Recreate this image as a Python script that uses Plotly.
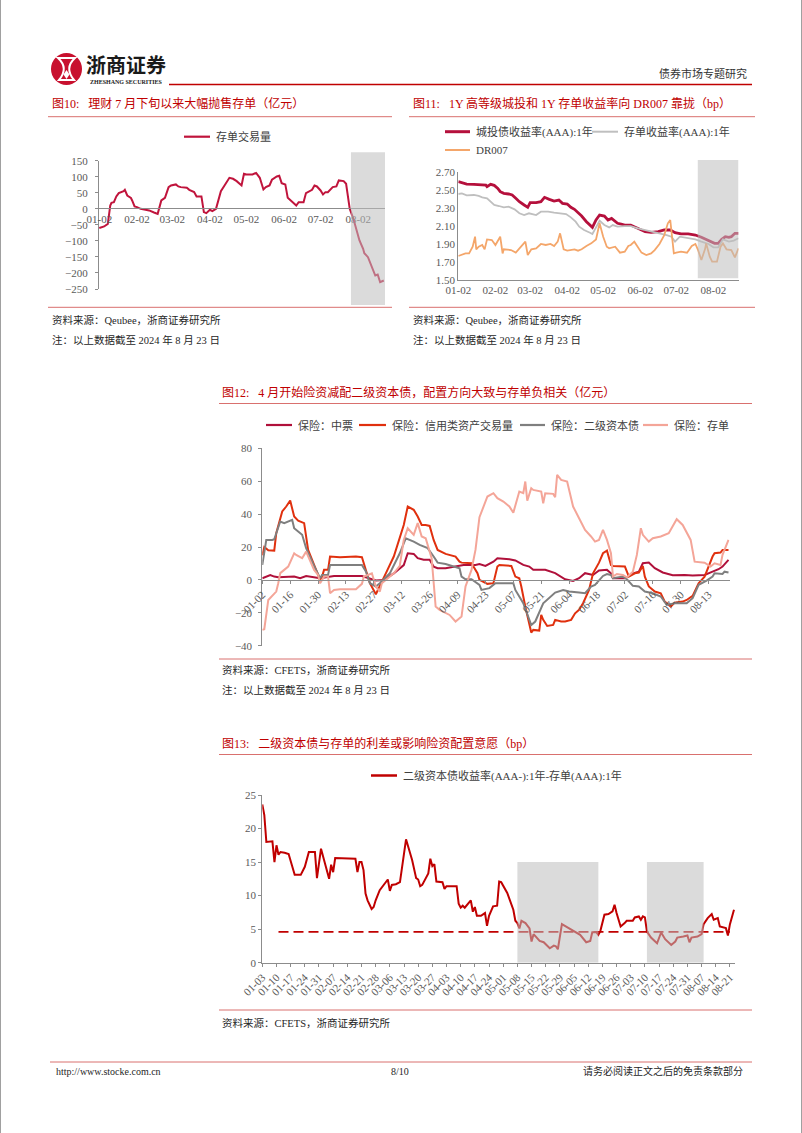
import plotly.graph_objects as go

W, H = 802, 1133
def px(x): return x / W
def py(y): return 1 - y / H

SERIF = "Liberation Serif, Noto Sans CJK SC, serif"
CJK = "Noto Sans CJK SC, sans-serif"
TICK_COLOR = "#595959"
AX_COLOR = "#8C8C8C"
RED = "#C00000"
RULE = "#D9706E"

# ---------------- Chart 10 data ----------------
c10_name = "存单交易量"
c10_dates = ["01-02","01-06","01-09","01-10","01-11","01-12","01-14","01-16","01-18","01-22","01-23","01-25","01-28","01-29","01-31",
             "02-02","02-05","02-09","02-12","02-16","02-19","02-22","02-23","02-25","02-28","03-01","03-05","03-07","03-09","03-14",
             "03-16","03-20","03-22","03-26","03-28","03-30","04-02","04-04","04-07","04-11","04-14","04-18","04-21","04-24","04-28",
             "04-30","05-02","05-07","05-10","05-13","05-16","05-18","05-21","05-23","05-27","05-29","05-31","06-03","06-05","06-09",
             "06-12","06-14","06-18","06-20","06-25","06-27","06-29","07-02","07-04","07-06","07-08","07-12","07-15","07-17","07-21",
             "07-23","07-25","07-26","07-29","08-01","08-03","08-06","08-07","08-10","08-13","08-16","08-18","08-20","08-23"]
c10_vals = [-60,-55,-47,-13.5,10,18.7,20.8,38.5,49,55,59,41.6,34.3,26,7.3,
            5.2,0,-3,-5,-11.4,-15.6,26,28,34.3,67.6,72.8,76,69.7,67.6,65.5,
            59.3,52,38.5,38.5,-10.4,-13.5,-3,-7.3,0,55,72.8,96.7,93.6,86.3,72.8,
            109,107,107,112,96.7,60.3,67.6,72.8,90.5,101,103,80,76,34.3,20.8,
            10.4,20.8,20.8,49,59.3,72.8,69.7,57.2,44.7,52,52,67.6,69.7,88.4,86.3,
            78,31.2,0,-31.2,-67.6,-98.8,-124.8,-138.3,-150.8,-182,-208,-204.9,-228.8,-223.6]
c10_ticks = ["01-02","02-02","03-02","04-02","05-02","06-02","07-02","08-02"]
c10_yticks = [150, 100, 50, 0, -50, -100, -150, -200, -250]

# ---------------- Chart 11 data ----------------
c11_names = ["城投债收益率(AAA):1年", "存单收益率(AAA):1年", "DR007"]
c11_cb_dates = ["01-02","01-05","01-09","01-15","01-21","01-25","01-26","01-29","02-01","02-04","02-06","02-09","02-13","02-16",
                "02-19","02-22","02-26","02-29","03-02","03-07","03-11","03-14","03-18","03-22","03-26","03-29","04-02","04-05",
                "04-08","04-11","04-14","04-18","04-22","04-23","04-26","04-29","05-03","05-06","05-09","05-12","05-14","05-17",
                "05-20","05-25","05-31","06-06","06-11","06-17","06-22","06-27","07-01","07-06","07-12","07-18","07-23","07-29",
                "08-03","08-06","08-09","08-12","08-15","08-17","08-20","08-23"]
c11_cb_vals = [2.589,2.578,2.563,2.56,2.56,2.552,2.534,2.56,2.549,2.515,2.479,2.46,2.453,2.442,
               2.405,2.368,2.331,2.305,2.357,2.357,2.368,2.416,2.394,2.375,2.386,2.349,2.342,2.305,
               2.283,2.246,2.209,2.146,2.091,2.083,2.165,2.22,2.209,2.165,2.183,2.146,2.128,2.12,
               2.109,2.109,2.072,2.035,2.028,2.035,2.054,2.054,2.024,2.01,2.01,1.998,1.973,1.936,
               1.906,1.906,1.95,1.98,1.973,1.98,2.017,2.017]
c11_ncd_dates = ["01-02","01-05","01-09","01-15","01-19","01-22","01-26","01-29","02-01","02-05","02-09","02-13","02-18","02-22",
                 "02-26","03-01","03-07","03-11","03-17","03-22","03-28","04-01","04-05","04-09","04-12","04-16","04-21","04-23",
                 "04-26","04-29","05-03","05-07","05-10","05-14","05-20","05-25","05-31","06-06","06-13","06-18","06-24","06-28",
                 "07-01","07-05","07-12","07-18","07-23","07-29","08-02","08-06","08-10","08-15","08-19","08-23"]
c11_ncd_vals = [2.453,2.46,2.438,2.442,2.431,2.416,2.405,2.368,2.331,2.32,2.305,2.312,2.283,2.239,
                2.22,2.239,2.22,2.257,2.257,2.246,2.239,2.231,2.194,2.146,2.091,2.054,2.024,2.01,
                2.083,2.157,2.109,2.083,2.109,2.091,2.098,2.098,2.072,2.054,2.035,2.024,1.998,1.98,
                1.925,1.98,1.962,1.95,1.925,1.899,1.862,1.862,1.95,1.925,1.936,1.962]
c11_dr_dates = ["01-02","01-05","01-08","01-11","01-14","01-16","01-17","01-19","01-22","01-24","01-26","01-30","02-02","02-06",
                "02-08","02-09","02-15","02-19","02-23","02-27","02-29","03-03","03-07","03-11","03-15","03-19","03-22","03-25",
                "03-27","03-30","04-02","04-08","04-11","04-14","04-18","04-22","04-26","04-29","05-02","05-05","05-07","05-12",
                "05-16","05-20","05-23","05-25","05-28","05-31","06-03","06-07","06-11","06-14","06-18","06-22","06-25","06-27",
                "06-28","06-30","07-02","07-06","07-11","07-15","07-18","07-20","07-23","07-26","07-27","07-30","08-01","08-05",
                "08-08","08-10","08-13","08-17","08-20","08-23"]
c11_dr_vals = [1.766,1.777,1.795,1.795,1.869,1.98,1.84,1.869,1.888,1.84,1.95,1.943,1.888,1.98,
               1.795,1.84,1.832,1.803,1.869,1.925,1.777,1.84,1.851,1.899,1.888,1.899,1.877,1.925,
               2.017,1.84,1.825,1.84,1.825,1.84,1.877,1.906,1.95,2.128,1.98,1.869,1.851,1.869,
               1.803,1.814,1.877,1.888,1.925,1.869,1.803,1.777,1.795,1.832,1.899,1.998,2.128,2.165,
               2.017,1.795,1.803,1.814,1.803,1.877,1.899,1.84,1.722,1.84,1.906,1.758,1.703,1.703,
               1.869,1.906,1.84,1.832,1.751,1.851]
c11_ticks = ["01-02","02-02","03-02","04-02","05-02","06-02","07-02","08-02"]

# ---------------- Chart 12 data ----------------
c12_names = ["保险：中票", "保险：信用类资产交易量", "保险：二级资本债", "保险：存单"]
c12_mtn_dates = ["01-02","01-06","01-08","01-10","01-18","01-21","01-24","01-31","02-03","02-07","02-21","02-25","02-28","03-03",
                 "03-08","03-13","03-15","03-18","03-20","03-23","03-26","03-28","03-30","04-03","04-12","04-18","04-20","04-23",
                 "04-27","04-29","05-05","05-08","05-12","05-15","05-17","05-23","05-28","06-02","06-06","06-09","06-12","06-16",
                 "06-19","06-23","06-25","06-26","07-02","07-06","07-09","07-11","07-14","07-17","07-21","07-26","08-01","08-05",
                 "08-11","08-15","08-18","08-20","08-23"]
c12_mtn_vals = [1,3,2,1.6,2,1,2.4,1,1.6,2.4,2.4,1,-0.4,0,
                4,9,16.2,15.8,13.2,12.2,12.2,8.1,7.1,7.1,9.1,9.1,9.7,8.5,
                11.1,13.2,12.6,11.8,9.1,8.1,6.1,6.1,4.1,0.4,-0.6,1,4.1,3,
                5.7,6.1,4,1,1,4,5,10.1,10.5,7.1,4.5,2.8,3,2.6,
                3,5,6.5,8.1,12.2]
c12_cr_dates = ["01-02","01-03","01-05","01-08","01-09","01-12","01-14","01-16","01-18","01-20","01-23","01-25","01-28","01-31",
                "02-01","02-02","02-04","02-05","02-10","02-18","02-21","02-22","02-25","02-28","03-01","03-04","03-08","03-10",
                "03-13","03-15","03-18","03-20","03-22","03-24","03-26","03-28","03-30","04-03","04-08","04-10","04-11","04-16",
                "04-19","04-20","04-24","04-27","04-29","04-30","05-06","05-08","05-10","05-11","05-13","05-16","05-17","05-20",
                "05-21","05-22","05-24","05-27","05-28","05-31","06-02","06-05","06-07","06-09","06-11","06-14","06-16","06-19",
                "06-21","06-23","06-25","06-26","07-02","07-04","07-07","07-09","07-11","07-12","07-14","07-17","07-20","07-22",
                "07-25","07-27","07-31","08-02","08-05","08-08","08-11","08-15","08-16","08-19","08-20","08-23"]
c12_cr_vals = [15,20,18,17.8,28.4,41.6,44.6,48.2,38.5,36,34.5,18.2,9.1,0,
               2,6.1,6.1,14.2,13.8,14.2,13.8,10.1,-2,-8.7,-4,4,14.2,22.3,
               33.4,44.6,42.6,38.5,33.4,33.4,32.8,24.3,18.2,15.8,14.2,11.1,10.5,10.1,
               4.1,0,-2.4,-2,8.1,9.1,8.5,2,1,-4,-16.2,-32,-30.4,-30.8,
               -21.3,-24.3,-28,-27.4,-24.3,-25.3,-25.3,-24.3,-20.3,-18.2,-14.2,-6.1,4,10.5,
               16.2,17.8,9.1,8.5,8.1,2,4,4.5,8.5,2,-4,-7.1,-8.1,-13.2,
               -16.2,-13.8,-13.2,-12.2,-9.7,-2,2,14.2,16.2,16.6,18.2,18.2]
c12_t2_dates = ["01-02","01-04","01-07","01-08","01-11","01-13","01-17","01-18","01-22","01-24","01-28","01-31","02-01","02-04",
                "02-05","02-21","02-23","02-25","02-28","03-01","03-06","03-11","03-14","03-18","03-21","03-25","03-28","03-30",
                "04-03","04-10","04-11","04-13","04-16","04-20","04-21","04-25","04-28","05-07","05-08","05-12","05-16","05-18",
                "05-22","05-25","05-28","06-01","06-04","06-09","06-12","06-15","06-17","06-21","06-23","06-25","06-26","07-01",
                "07-03","07-06","07-09","07-12","07-16","07-20","07-23","07-27","08-02","08-05","08-08","08-12","08-15","08-16",
                "08-20","08-21","08-23"]
c12_t2_vals = [9.1,24.3,24.3,24.7,35.5,34.5,36.5,31.4,27.4,19.3,8.5,1,3,3,
               9.1,9.1,5.1,-2,-4,-2,4,16.2,25.3,23.3,21.3,19.3,14.2,10.5,
               9.7,7.1,2,0.4,0.4,-3,-6.1,-5,-2,-2,-6.1,-14.2,-27.4,-25.3,
               -14.2,-11.1,-7.7,-6.1,-7.1,-7.7,-8.1,-4,-3,2.4,3.6,3,1,2,
               0.4,-3.6,-4,-7.1,-8.1,-10.1,-15.2,-14.2,-14.2,-11.1,-3,-0.4,2,4,
               3.6,5,4.5]
c12_ncd_dates = ["01-02","01-03","01-05","01-08","01-09","01-10","01-11","01-13","01-15","01-18","01-19","01-22","01-24","01-28",
                 "01-30","01-31","02-02","02-04","02-05","02-07","02-10","02-18","02-21","02-22","02-25","02-26","02-28","03-01",
                 "03-02","03-05","03-08","03-11","03-13","03-15","03-18","03-20","03-22","03-24","03-27","03-29","03-31","04-05",
                 "04-08","04-11","04-13","04-16","04-18","04-20","04-22","04-24","04-27","04-29","05-02","05-05","05-07","05-10",
                 "05-12","05-13","05-14","05-16","05-17","05-21","05-22","05-23","05-27","05-28","05-29","05-31","06-03","06-06",
                 "06-09","06-12","06-15","06-17","06-19","06-21","06-23","06-25","06-26","06-28","07-01","07-03","07-06","07-08",
                 "07-10","07-11","07-14","07-16","07-20","07-24","07-28","07-31","08-04","08-06","08-11","08-14","08-16","08-19",
                 "08-20","08-23"]
c12_ncd_vals = [-30.4,-30,-12.2,-8.1,-7.1,-2,4.1,6.1,8.1,16.2,15.2,13.2,17.2,6.1,
                3,-2,2,2,-8.1,-6.1,-5.7,-5.7,-2.4,2,3.6,4,-4,-7.1,
                -2,1,4,8.5,24.3,31.4,27.4,34.5,26.4,25.3,13.2,-16.2,-18.2,-21.3,
                -25.3,-22.3,-4,6.1,18.2,38.1,44.6,50.7,52.7,49.7,47.6,44.6,40.9,53.7,
                52.7,59.8,48.2,55.7,54.7,53.7,46.6,52.7,52.3,50.3,63.9,60.8,59.8,44.6,
                37.5,30.4,26.4,23.3,24.3,30.4,24.3,16.2,2,3.6,3,1.6,5,15.2,
                31.4,27.4,23.3,25.3,26.4,28.4,36.9,33.4,24.3,11.1,10.5,8.1,10.1,9.1,
                15.2,24.3]
c12_ticks = ["01-02","01-16","01-30","02-13","02-27","03-12","03-26","04-09","04-23","05-07","05-21",
             "06-04","06-18","07-02","07-16","07-30","08-13"]

# ---------------- Chart 13 data ----------------
c13_name = "二级资本债收益率(AAA-):1年-存单(AAA):1年"
c13_dates = ["01-03","01-04","01-05","01-08","01-09","01-10","01-11","01-12","01-14","01-16","01-19","01-22","01-24","01-26",
             "01-29","01-30","02-01","02-05","02-06","02-07","02-08","02-18","02-19","02-20","02-21","02-22","02-23","02-24",
             "02-26","02-27","02-28","03-01","03-05","03-06","03-07","03-09","03-11","03-14","03-17","03-19","03-20","03-21",
             "03-22","03-25","03-26","03-27","03-28","03-29","04-01","04-02","04-03","04-08","04-09","04-10","04-11","04-12",
             "04-15","04-16","04-17","04-18","04-20","04-22","04-23","04-24","04-26","04-28","04-29","04-30","05-03","05-05",
             "05-06","05-07","05-08","05-09","05-10","05-12","05-14","05-15","05-16","05-19","05-21","05-24","05-26","05-27",
             "05-28","05-30","06-03","06-05","06-08","06-11","06-13","06-14","06-16","06-17","06-18","06-20","06-22","06-24",
             "06-25","06-26","06-28","06-30","07-01","07-04","07-05","07-07","07-08","07-09","07-10","07-11","07-13","07-16",
             "07-18","07-20","07-23","07-25","07-26","07-29","07-31","08-01","08-02","08-05","08-07","08-08","08-10","08-12",
             "08-13","08-15","08-16","08-19","08-20","08-21","08-23"]
c13_vals = [23.6,22,18,18.1,15,17.5,16.1,16.5,16.4,16.2,13.1,13.1,14.3,16.5,
            16.5,12.6,17,12.5,14.6,13.5,15.6,15.5,13.5,15,15,13.8,10.3,9.3,
            8,8.3,9.3,10.8,12.4,10.7,11.6,11.7,12,18.4,15.3,12.6,12.4,11.4,
            11.6,13.3,15.5,14.4,14.7,12.1,12,11,11.4,11.4,8.8,8.2,8.5,8.2,
            9.3,7.6,8.3,7,7,7.4,5.5,7,8.4,8.5,12.1,12,10.4,8.9,
            7.9,6.25,5.9,5.1,6.25,5.9,5.1,3.15,4.25,3.25,3.05,2.15,2.55,2.45,
            2,5.75,5.05,4.75,4.15,3.05,3.25,4.55,4.55,4.15,4.75,7.15,7.25,7.65,
            8.65,7.4,5.4,5.9,6.25,6.25,6.75,6.9,6.4,6.9,6.75,4.65,3.75,2.9,
            4.5,3.5,2.65,3.15,3.75,3.9,4.05,3.05,3.75,3.9,4.25,5.75,6.65,7.25,
            6.4,6.65,5.4,5.15,4.05,5.75,7.9]
c13_avg_dates = ["01-11", "08-21"]
c13_avg_vals = [4.6, 4.6]
c13_shade_start = ["05-08", "07-11"]
c13_shade_end = ["06-17", "08-08"]
c13_ticks = ["01-03","01-10","01-17","01-24","01-31","02-07","02-14","02-21","02-28","03-06","03-13","03-20",
             "03-27","04-03","04-10","04-17","04-24","05-01","05-08","05-15","05-22","05-29","06-05","06-12",
             "06-19","06-26","07-03","07-10","07-17","07-24","07-31","08-07","08-14","08-21"]

def d(lst):
    return ["2024-" + s for s in lst]

COL10 = "#C0143C"
COL11 = ["#B5103C", "#BFBFBF", "#F4A66A"]
W11 = [2.8, 1.8, 1.8]
COL12 = ["#B0103A", "#E0300E", "#7F7F7F", "#F4A598"]
COL13 = RED

fig = go.Figure()

fig.add_trace(go.Scatter(x=d(c10_dates), y=c10_vals, mode="lines", name=c10_name,
                         line=dict(color=COL10, width=2), xaxis="x", yaxis="y"))
for nm, xs, ys, c, w in zip(c11_names, [c11_cb_dates, c11_ncd_dates, c11_dr_dates],
                            [c11_cb_vals, c11_ncd_vals, c11_dr_vals], COL11, W11):
    fig.add_trace(go.Scatter(x=d(xs), y=ys, mode="lines", name=nm,
                             line=dict(color=c, width=w), xaxis="x2", yaxis="y2"))
for nm, xs, ys, c in zip(c12_names, [c12_mtn_dates, c12_cr_dates, c12_t2_dates, c12_ncd_dates],
                         [c12_mtn_vals, c12_cr_vals, c12_t2_vals, c12_ncd_vals], COL12):
    fig.add_trace(go.Scatter(x=d(xs), y=ys, mode="lines", name=nm,
                             line=dict(color=c, width=2), xaxis="x3", yaxis="y3"))
fig.add_trace(go.Scatter(x=d(c13_dates), y=c13_vals, mode="lines", name=c13_name,
                         line=dict(color=COL13, width=2), xaxis="x4", yaxis="y4"))
fig.add_trace(go.Scatter(x=d(c13_avg_dates), y=c13_avg_vals, mode="lines", name="avg",
                         line=dict(color=COL13, width=1.8, dash="10px,5px"), xaxis="x4", yaxis="y4"))

tickfont = dict(family=SERIF, size=11, color=TICK_COLOR)

def xax(domain, rng, ticks, **kw):
    base = dict(domain=[px(domain[0]), px(domain[1])], type="date", range=rng,
                tickmode="array", tickvals=d(ticks), ticktext=ticks, showgrid=False, zeroline=False,
                showline=True, linecolor=AX_COLOR, linewidth=1, tickfont=tickfont, automargin=False,
                ticks="outside", ticklen=3, tickcolor=AX_COLOR, fixedrange=True)
    base.update(kw)
    return base

def yax(domain, rng, **kw):
    base = dict(domain=[py(domain[1]), py(domain[0])], range=rng, showgrid=False, zeroline=False,
                showline=True, linecolor=AX_COLOR, linewidth=1, tickfont=tickfont, automargin=False,
                ticks="outside", ticklen=3, tickcolor=AX_COLOR, fixedrange=True)
    base.update(kw)
    return base

shapes = []
annotations = []

def hline(x0, x1, y, color, width=1, dash=None):
    ln = dict(color=color, width=width)
    if dash:
        ln["dash"] = dash
    shapes.append(dict(type="line", xref="paper", yref="paper", x0=px(x0), x1=px(x1), y0=py(y), y1=py(y), line=ln))

def text(x, y, s, size=10, color="#262626", anchor="left", family=SERIF):
    annotations.append(dict(x=px(x), y=py(y), xref="paper", yref="paper", text=s, showarrow=False,
                            xanchor=anchor, yanchor="middle", font=dict(family=family, size=size, color=color)))

def legend_item(x0, x1, y, name, color, width):
    hline(x0, x1, y, color, width)
    text(x1 + 4, y, name, size=11, color="#404040")

NB = "\u00a0"
# Header
shapes.append(dict(type="circle", xref="paper", yref="paper", x0=px(51), x1=px(82), y0=py(85), y1=py(53),
                   fillcolor="#C8102E", line=dict(width=0)))
shapes.append(dict(type="path", xref="paper", yref="paper",
                   path=f"M {px(58)},{py(58)} Q {px(69)},{py(68)} {px(59)},{py(80)} L {px(74)},{py(80)} Q {px(64)},{py(68)} {px(75)},{py(58)} Z",
                   fillcolor="#C8102E", line=dict(color="white", width=2)))
shapes.append(dict(type="path", xref="paper", yref="paper",
                   path=f"M {px(66.5)},{py(70)} L {px(69.5)},{py(74.5)} L {px(66.5)},{py(79)} L {px(63.5)},{py(74.5)} Z",
                   fillcolor="white", line=dict(width=0)))
text(84, 65, "<b>浙商证券</b>", size=20, color="#1A1A1A", family=CJK)
text(88, 82.5, "<b>ZHESHANG SECURITIES</b>", size=6, color="#1A1A1A")
hline(169, 752, 84.5, RED, 1.5)
text(749, 73, "债券市场专题研究", size=11, color="#333333", anchor="right", family=CJK)

for xe in (0.5, 801.5):
    shapes.append(dict(type="line", xref="paper", yref="paper", x0=px(xe), x1=px(xe), y0=0, y1=1,
                       line=dict(color="#A0A0A0", width=1)))

# Chart 10 frame
text(50, 103, "图10:" + NB*3 + "理财 7 月下旬以来大幅抛售存单（亿元）", size=12, color=RED)
hline(48, 392, 116.7, RULE)
hline(48, 392, 307.3, RULE)
text(50, 320, "资料来源：Qeubee，浙商证券研究所", size=10.5)
text(50, 340, "注：以上数据截至 2024 年 8 月 23 日", size=10.5)
legend_item(184, 210, 136.7, c10_name, COL10, 2.2)
shapes.append(dict(type="rect", xref="x", yref="paper", x0="2024-07-27", x1="2024-08-24",
                   y0=py(305), y1=py(152.3), fillcolor="rgba(190,190,190,0.55)", line=dict(width=0), layer="above"))

# Chart 11 frame
text(411, 103, "图11:" + NB*3 + "1Y 高等级城投和 1Y 存单收益率向 DR007 靠拢（bp）", size=12, color=RED)
hline(409, 755, 116.7, RULE)
hline(409, 755, 307.3, RULE)
text(411, 320, "资料来源：Qeubee，浙商证券研究所", size=10.5)
text(411, 340, "注：以上数据截至 2024 年 8 月 23 日", size=10.5)
legend_item(445, 470, 131.7, c11_names[0], COL11[0], 3)
legend_item(592, 618, 131.7, c11_names[1], COL11[1], 2)
legend_item(445, 470, 150, c11_names[2], COL11[2], 2)
shapes.append(dict(type="rect", xref="x2", yref="paper", x0="2024-07-20", x1="2024-08-23",
                   y0=py(278.3), y1=py(160), fillcolor="rgba(190,190,190,0.55)", line=dict(width=0), layer="above"))

# Chart 12 frame
text(220, 392.5, "图12:" + NB*3 + "4 月开始险资减配二级资本债，配置方向大致与存单负相关（亿元）", size=12, color=RED)
hline(219, 752, 403.5, RULE)
hline(219, 752, 659, RULE)
text(220, 670, "资料来源：CFETS，浙商证券研究所", size=10.5)
text(220, 690, "注：以上数据截至 2024 年 8 月 23 日", size=10.5)
for (x0, x1), nm, c in zip([(266, 292), (359, 386), (520, 545), (643, 668)], c12_names, COL12):
    legend_item(x0, x1, 425, nm, c, 2.2)

# Chart 13 frame
text(220, 743.3, "图13:" + NB*3 + "二级资本债与存单的利差或影响险资配置意愿（bp）", size=12, color=RED)
hline(219, 752, 754.5, RULE)
hline(219, 752, 1010, RULE)
text(220, 1023, "资料来源：CFETS，浙商证券研究所", size=10.5)
legend_item(371, 397, 775.5, c13_name, COL13, 2.5)
for s0, s1 in zip(c13_shade_start, c13_shade_end):
    shapes.append(dict(type="rect", xref="x4", yref="y4", x0="2024-" + s0, x1="2024-" + s1,
                       y0=0, y1=15, fillcolor="rgba(190,190,190,0.55)", line=dict(width=0), layer="above"))

# Footer
hline(50, 752, 1062, RULE)
text(54, 1071, "http://www.stocke.com.cn", size=10)
text(400, 1071, "8/10", size=10, anchor="center")
text(745, 1071, "请务必阅读正文之后的免责条款部分", size=10, anchor="right")

fig.update_layout(
    width=W, height=H, autosize=False, margin=dict(l=0, r=0, t=0, b=0, pad=0),
    paper_bgcolor="white", plot_bgcolor="rgba(0,0,0,0)",
    showlegend=False,
    xaxis=xax([99, 385], ["2024-01-01 18:00", "2024-08-24"], c10_ticks, anchor="free", position=py(208.3),
              ticklen=0),
    yaxis=yax([160.7, 289], [-250, 150], anchor="x", tickvals=c10_yticks, ticklabelstandoff=5),
    xaxis2=xax([458.3, 738.5], ["2024-01-02", "2024-08-23"], c11_ticks, anchor="y2", ticklen=0),
    yaxis2=yax([171.7, 280], [1.5, 2.7], anchor="x2", dtick=0.2, tick0=1.5, tickformat=".2f", ticklen=0),
    xaxis3=xax([262.3, 729.5], ["2024-01-02", "2024-08-23 12:00"], c12_ticks, anchor="free", position=py(580),
               tickangle=-45),
    yaxis3=yax([448.3, 645.7], [-40, 80], anchor="x3", dtick=20, ticklabelstandoff=4),
    xaxis4=xax([262.3, 735], ["2024-01-03", "2024-08-23 12:00"], c13_ticks, anchor="y4", tickangle=-45),
    yaxis4=yax([795, 962.7], [0, 25], anchor="x4", dtick=5),
    shapes=shapes,
    annotations=annotations,
)

fig.write_html("out.html", config={"displayModeBar": False},
               post_script="document.body.style.margin='0';")
